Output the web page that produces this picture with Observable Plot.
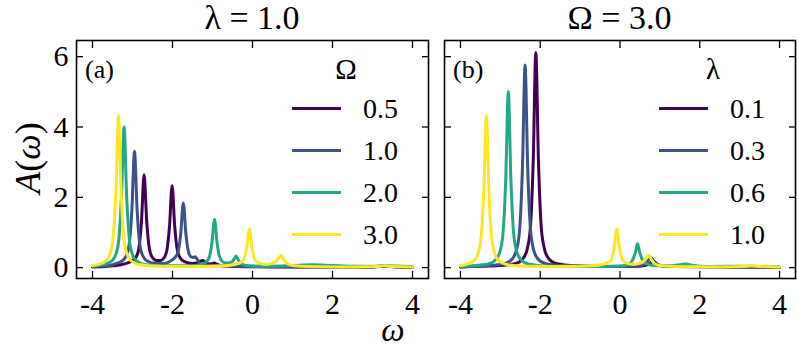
<!DOCTYPE html>
<html><head><meta charset="utf-8">
<script src="https://cdn.jsdelivr.net/npm/d3@7"></script>
<script src="https://cdn.jsdelivr.net/npm/@observablehq/plot@0.6"></script>
<style>
body{margin:0;background:#fff;}
#wrap{position:relative;width:797px;height:347px;overflow:hidden;font-family:"Liberation Serif",serif;color:#000;background:#fff;}
#wrap svg{position:absolute;top:0;}
.t{position:absolute;white-space:nowrap;line-height:1;}
.c{transform:translate(-50%,-50%);}
</style></head><body><div id="wrap"></div>
<script>
// ---- labels / ticks ----
const omegaTicks = [-4, -2, 0, 2, 4];
const aTicks = [0, 2, 4, 6];
const colors = ["#440154", "#3b528b", "#22a884", "#fde725"];
const titleA = "λ = 1.0";
const titleB = "Ω = 3.0";
const legendTitleA = "Ω";
const legendTitleB = "λ";
const legendLabelsA = ["0.5", "1.0", "2.0", "3.0"];
const legendLabelsB = ["0.1", "0.3", "0.6", "1.0"];
const panelTagA = "(a)";
const panelTagB = "(b)";

// ---- panel (a): lambda = 1.0, series by Omega ----
const a_O05 = [[-4.0,0.02],[-3.6,0.04],[-3.3,0.08],[-3.1,0.14],[-3.0,0.2],[-2.91,0.3],[-2.84,0.55],[-2.775,1.32],[-2.71,2.64],[-2.645,1.32],[-2.58,0.55],[-2.51,0.3],[-2.4,0.2],[-2.3,0.2],[-2.21,0.28],[-2.14,0.5],[-2.075,1.17],[-2.01,2.33],[-1.945,1.17],[-1.88,0.5],[-1.81,0.28],[-1.7,0.17],[-1.5,0.12],[-1.35,0.15],[-1.29,0.19],[-1.24,0.2],[-1.18,0.15],[-1.08,0.1],[-1.0,0.12],[-0.95,0.13],[-0.9,0.1],[-0.75,0.05],[-0.4,0.03],[0.5,0.02],[2.0,0.02],[3.0,0.02],[3.3,0.04],[3.6,0.02],[4.0,0.01]];
const a_O10 = [[-4.0,0.03],[-3.6,0.06],[-3.45,0.1],[-3.25,0.2],[-3.15,0.35],[-3.08,0.68],[-3.015,1.65],[-2.95,3.30],[-2.885,1.65],[-2.82,0.68],[-2.75,0.35],[-2.65,0.2],[-2.45,0.12],[-2.2,0.12],[-2.03,0.2],[-1.93,0.3],[-1.86,0.45],[-1.795,0.95],[-1.73,1.84],[-1.665,0.95],[-1.6,0.45],[-1.53,0.3],[-1.47,0.29],[-1.43,0.31],[-1.39,0.25],[-1.3,0.12],[-1.1,0.06],[-0.7,0.05],[-0.3,0.04],[0.3,0.03],[1.5,0.02],[3.0,0.02],[3.3,0.04],[3.6,0.02],[4.0,0.02]];
const a_O20 = [[-4.0,0.04],[-3.71,0.09],[-3.51,0.2],[-3.41,0.4],[-3.34,0.82],[-3.275,2.0],[-3.21,4.0],[-3.145,2.0],[-3.08,0.82],[-3.01,0.4],[-2.91,0.2],[-2.71,0.09],[-2.2,0.05],[-1.6,0.05],[-1.25,0.1],[-1.15,0.17],[-1.08,0.3],[-1.015,0.7],[-0.95,1.37],[-0.885,0.7],[-0.82,0.3],[-0.72,0.15],[-0.6,0.13],[-0.5,0.18],[-0.45,0.26],[-0.41,0.33],[-0.37,0.25],[-0.3,0.12],[-0.1,0.05],[0.5,0.04],[1.0,0.06],[1.5,0.08],[2.0,0.06],[2.5,0.04],[3.0,0.04],[3.3,0.05],[4.0,0.03]];
const a_O30 = [[-4.0,0.06],[-3.85,0.09],[-3.65,0.21],[-3.55,0.43],[-3.48,0.88],[-3.415,2.16],[-3.35,4.31],[-3.285,2.16],[-3.22,0.88],[-3.15,0.43],[-3.05,0.21],[-2.85,0.09],[-2.35,0.04],[-1.5,0.03],[-0.6,0.06],[-0.3,0.14],[-0.21,0.25],[-0.145,0.57],[-0.08,1.10],[-0.015,0.57],[0.05,0.25],[0.14,0.14],[0.35,0.09],[0.5,0.12],[0.6,0.19],[0.66,0.28],[0.72,0.35],[0.78,0.24],[0.86,0.12],[1.0,0.06],[1.4,0.03],[2.5,0.02],[3.1,0.03],[3.3,0.05],[3.5,0.03],[4.0,0.02]];

// ---- panel (b): Omega = 3.0, series by lambda ----
const b_L01 = [[-4.0,0.02],[-3.11,0.05],[-2.61,0.12],[-2.41,0.29],[-2.31,0.61],[-2.24,1.24],[-2.175,3.06],[-2.11,6.12],[-2.045,3.06],[-1.98,1.24],[-1.91,0.61],[-1.81,0.29],[-1.61,0.12],[-1.11,0.05],[-0.3,0.03],[0.5,0.04],[0.72,0.09],[0.84,0.18],[0.95,0.08],[1.2,0.03],[2.5,0.02],[4.0,0.01]];
const b_L03 = [[-4.0,0.02],[-3.38,0.05],[-2.88,0.12],[-2.68,0.28],[-2.58,0.57],[-2.51,1.17],[-2.445,2.88],[-2.38,5.76],[-2.315,2.88],[-2.25,1.17],[-2.18,0.57],[-2.08,0.28],[-1.88,0.12],[-1.38,0.05],[-0.5,0.03],[0.4,0.04],[0.65,0.12],[0.78,0.28],[0.88,0.12],[1.1,0.04],[1.7,0.03],[4.0,0.01]];
const b_L06 = [[-4.0,0.03],[-3.8,0.04],[-3.3,0.1],[-3.1,0.25],[-3.0,0.5],[-2.93,1.02],[-2.865,2.5],[-2.80,5.01],[-2.735,2.5],[-2.67,1.02],[-2.6,0.5],[-2.5,0.25],[-2.3,0.1],[-1.8,0.04],[-0.5,0.03],[0.1,0.05],[0.25,0.12],[0.33,0.25],[0.39,0.45],[0.44,0.68],[0.49,0.45],[0.55,0.25],[0.65,0.12],[0.9,0.05],[1.3,0.05],[1.55,0.09],[1.65,0.1],[1.8,0.07],[2.2,0.03],[3.3,0.04],[4.0,0.02]];
const b_L10 = a_O30; // same parameters (lambda = 1.0, Omega = 3.0)

// ---- layout ----
const H = 347, MT = 40, MB = 69;
const panels = [
  {left: 0, width: 430, ml: 76, mr: 2, series: [a_O05, a_O10, a_O20, a_O30], yLabels: true,
   title: titleA, legendTitle: legendTitleA, labels: legendLabelsA, tag: panelTagA},
  {left: 430, width: 367, ml: 14, mr: 2, series: [b_L01, b_L03, b_L06, b_L10], yLabels: false,
   title: titleB, legendTitle: legendTitleB, labels: legendLabelsB, tag: panelTagB}
];

const wrap = document.getElementById("wrap");
function addText(txt, x, y, size, extra = "") {
  const d = document.createElement("div");
  d.className = "t c";
  d.style.left = x + "px"; d.style.top = y + "px"; d.style.fontSize = size + "px";
  d.style.cssText += extra;
  d.innerHTML = txt;
  wrap.appendChild(d);
  return d;
}

for (const p of panels) {
  const svg = Plot.plot({
    width: p.width, height: H,
    marginLeft: p.ml, marginRight: p.mr, marginTop: MT, marginBottom: MB,
    x: {domain: [-4.4, 4.4]},
    y: {domain: [-0.31, 6.46]},
    style: {fontFamily: "Liberation Serif, serif", fontSize: "30px", background: "transparent", overflow: "visible", color: "black"},
    marks: [
      ...p.series.map((s, i) => Plot.line(s, {x: d => d[0], y: d => d[1], stroke: colors[i], strokeWidth: 3, curve: "monotone-x"})),
      Plot.axisX({anchor: "bottom", ticks: omegaTicks, tickSize: -7, tickPadding: 21, tickFormat: d => String(d), label: null, strokeWidth: 1.3}),
      Plot.axisX({anchor: "top", ticks: omegaTicks, tickSize: -7, tickFormat: () => "", label: null, strokeWidth: 1.3}),
      Plot.axisY({anchor: "left", ticks: aTicks, tickSize: -7, tickPadding: 15, tickFormat: p.yLabels ? (d => String(d)) : (() => ""), label: null, strokeWidth: 1.3}),
      Plot.axisY({anchor: "right", ticks: aTicks, tickSize: -7, tickFormat: () => "", label: null, strokeWidth: 1.3}),
      Plot.frame({stroke: "black", strokeWidth: 1.6})
    ]
  });
  svg.style.left = p.left + "px";
  wrap.appendChild(svg);

  const fl = p.left + p.ml, fr = p.left + p.width - p.mr;
  // title
  addText(p.title, (fl + fr) / 2, 18, 34);
  // panel tag
  const tg = addText(p.tag, fl + 9, 70, 26);
  tg.style.transform = "translate(0,-50%)";
  // legend
  addText(p.legendTitle, fr - 82, 69, 29);
  p.labels.forEach((lab, i) => {
    const y = 108 + i * 42;
    const ln = document.createElement("div");
    ln.style.cssText = `position:absolute;left:${fr - 136}px;top:${y - 1.5}px;width:49px;height:3px;background:${colors[i]};`;
    wrap.appendChild(ln);
    const t = addText(lab, fr - 65, y + 1, 28);
    t.style.transform = "translate(0,-50%)";
  });
}
// axis labels
addText('<i>A</i>(<i>ω</i>)', 28, 158, 36, "transform:translate(-50%,-50%) rotate(-90deg);");
addText('<i>ω</i>', 393, 330, 33);
</script></body></html>
